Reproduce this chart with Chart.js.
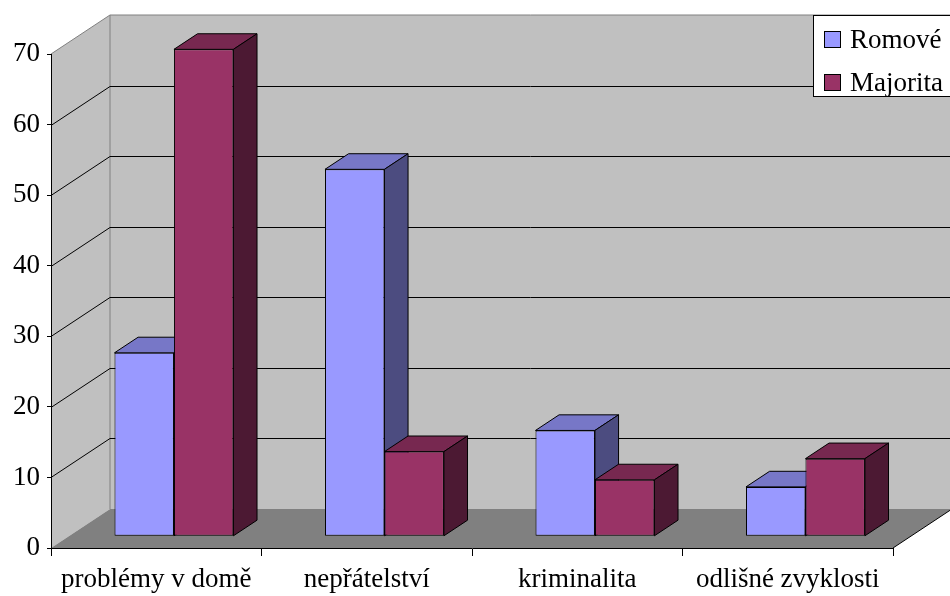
<!DOCTYPE html>
<html>
<head>
<meta charset="utf-8">
<script src="https://cdn.jsdelivr.net/npm/chart.js@4.4.1/dist/chart.umd.min.js"></script>
<style>
  html, body { margin: 0; padding: 0; background: #fff; }
</style>
</head>
<body>
<canvas id="chart" width="950" height="596"></canvas>
<script>
// data
const categories = ['problémy v domě', 'nepřátelství', 'kriminalita', 'odlišné zvyklosti'];
const romove = [26, 52, 15, 7];
const majorita = [69, 12, 8, 11];
const seriesNames = ['Romové', 'Majorita'];
const yTicks = [0, 10, 20, 30, 40, 50, 60, 70];

const FONT = '"Liberation Serif", "Times New Roman", serif';
const DEPTH = { x: 59, y: -39 };      // wall depth (front axis -> back wall)
const BAR_FRONT = 0.3;                // bars start at 30% of depth
const BAR_DEPTH = 0.4;                // and are 40% deep
const faces = [
  { front: '#9999ff', top: '#7777c7', side: '#4c4c80' },
  { front: '#993366', top: '#772850', side: '#4c1933' },
];

function poly(ctx, pts) {
  ctx.beginPath();
  pts.forEach(([x, y], i) => (i ? ctx.lineTo(x, y) : ctx.moveTo(x, y)));
  ctx.closePath();
}

// walls, floor, grid lines, bar tops/sides and legend box
const box3d = {
  id: 'box3d',
  beforeDraw(chart) {
    const { ctx, chartArea: a, scales: { y } } = chart;
    const L = a.left, R = a.right;
    const T = y.getPixelForValue(yTicks[yTicks.length - 1]);
    const B = y.getPixelForValue(0);
    const dx = DEPTH.x, dy = DEPTH.y;
    ctx.save();
    ctx.fillStyle = '#c0c0c0';
    poly(ctx, [[L, T], [L + dx, T + dy], [L + dx, B + dy], [L, B]]);
    ctx.fill();
    poly(ctx, [[L + dx, T + dy], [R + dx, T + dy], [R + dx, B + dy], [L + dx, B + dy]]);
    ctx.fill();
    ctx.fillStyle = '#808080';
    poly(ctx, [[L, B], [R, B], [R + dx, B + dy], [L + dx, B + dy]]);
    ctx.fill();

    ctx.lineWidth = 1;
    ctx.strokeStyle = '#808080';
    ctx.beginPath();
    ctx.moveTo(L, T); ctx.lineTo(L + dx, T + dy); ctx.lineTo(R + dx, T + dy);
    ctx.moveTo(L + dx, T + dy); ctx.lineTo(L + dx, B + dy);
    ctx.stroke();

    ctx.strokeStyle = '#000';
    yTicks.slice(1, -1).forEach((v) => {
      const p = Math.round(y.getPixelForValue(v)) + 0.5;
      ctx.beginPath();
      ctx.moveTo(L, p); ctx.lineTo(L + dx, p + dy); ctx.lineTo(R + dx, p + dy);
      ctx.stroke();
    });
    ctx.beginPath();
    ctx.moveTo(R, B); ctx.lineTo(R + dx, B + dy);
    ctx.stroke();
    ctx.restore();
  },
  beforeDatasetsDraw(chart) {
    const ctx = chart.ctx;
    const ox = DEPTH.x * BAR_FRONT, oy = DEPTH.y * BAR_FRONT;
    const bx = DEPTH.x * BAR_DEPTH, by = DEPTH.y * BAR_DEPTH;
    ctx.save();
    ctx.translate(ox, oy);
    ctx.strokeStyle = '#000';
    ctx.lineWidth = 1;
    chart.data.datasets.forEach((ds, di) => {
      chart.getDatasetMeta(di).data.forEach((bar) => {
        const { x, y, base, width } = bar.getProps(['x', 'y', 'base', 'width'], true);
        const l = x - width / 2, r = x + width / 2;
        ctx.fillStyle = faces[di].top;
        poly(ctx, [[l, y], [r, y], [r + bx, y + by], [l + bx, y + by]]);
        ctx.fill(); ctx.stroke();
        ctx.fillStyle = faces[di].side;
        poly(ctx, [[r, y], [r + bx, y + by], [r + bx, base + by], [r, base]]);
        ctx.fill(); ctx.stroke();
      });
    });
    ctx.restore();
    // front faces drawn by Chart.js, shifted into the depth
    ctx.save();
    ctx.translate(ox, oy);
  },
  afterDatasetsDraw(chart) {
    chart.ctx.restore();
  },
  afterDraw(chart) {
    const ctx = chart.ctx;
    ctx.save();
    ctx.fillStyle = '#fff';
    ctx.strokeStyle = '#000';
    ctx.lineWidth = 1;
    ctx.fillRect(813.5, 15.5, 200, 81);
    ctx.strokeRect(813.5, 15.5, 200, 81);
    ctx.font = '27px ' + FONT;
    ctx.textBaseline = 'alphabetic';
    chart.data.datasets.forEach((ds, i) => {
      const top = 31 + i * 43;
      ctx.fillStyle = ds.backgroundColor;
      ctx.fillRect(824.5, top + 0.5, 16, 16);
      ctx.strokeRect(824.5, top + 0.5, 16, 16);
      ctx.fillStyle = '#000';
      ctx.fillText(ds.label, 850, top + 17);
    });
    ctx.restore();
  },
};

const dataset = (label, data, i) => ({
  label,
  data,
  backgroundColor: faces[i].front,
  borderColor: '#000',
  borderWidth: 1,
  borderSkipped: false,
  categoryPercentage: 0.565,
  barPercentage: 1,
  clip: false,
});

new Chart(document.getElementById('chart'), {
  type: 'bar',
  data: {
    labels: categories,
    datasets: [dataset(seriesNames[0], romove, 0), dataset(seriesNames[1], majorita, 1)],
  },
  options: {
    responsive: false,
    animation: false,
    events: [],
    layout: { padding: { top: 54, right: 57, left: 0, bottom: 0 } },
    plugins: { legend: { display: false }, tooltip: { enabled: false } },
    scales: {
      x: {
        afterFit: (s) => { s.height = 48; },
        grid: { display: true, drawOnChartArea: false, offset: true, tickLength: 8, color: '#000' },
        border: { display: true, color: '#000', width: 1 },
        ticks: { color: '#000', font: { family: FONT, size: 27 }, padding: 8, maxRotation: 0 },
      },
      y: {
        min: 0,
        max: 70,
        afterFit: (s) => { s.width = 51; },
        afterBuildTicks: (s) => { s.ticks = yTicks.map((v) => ({ value: v })); },
        grid: { display: true, drawOnChartArea: false, tickLength: 4, color: '#000' },
        border: { display: true, color: '#000', width: 1 },
        ticks: { color: '#000', font: { family: FONT, size: 27 }, padding: 7 },
      },
    },
  },
  plugins: [box3d],
});
</script>
</body>
</html>
